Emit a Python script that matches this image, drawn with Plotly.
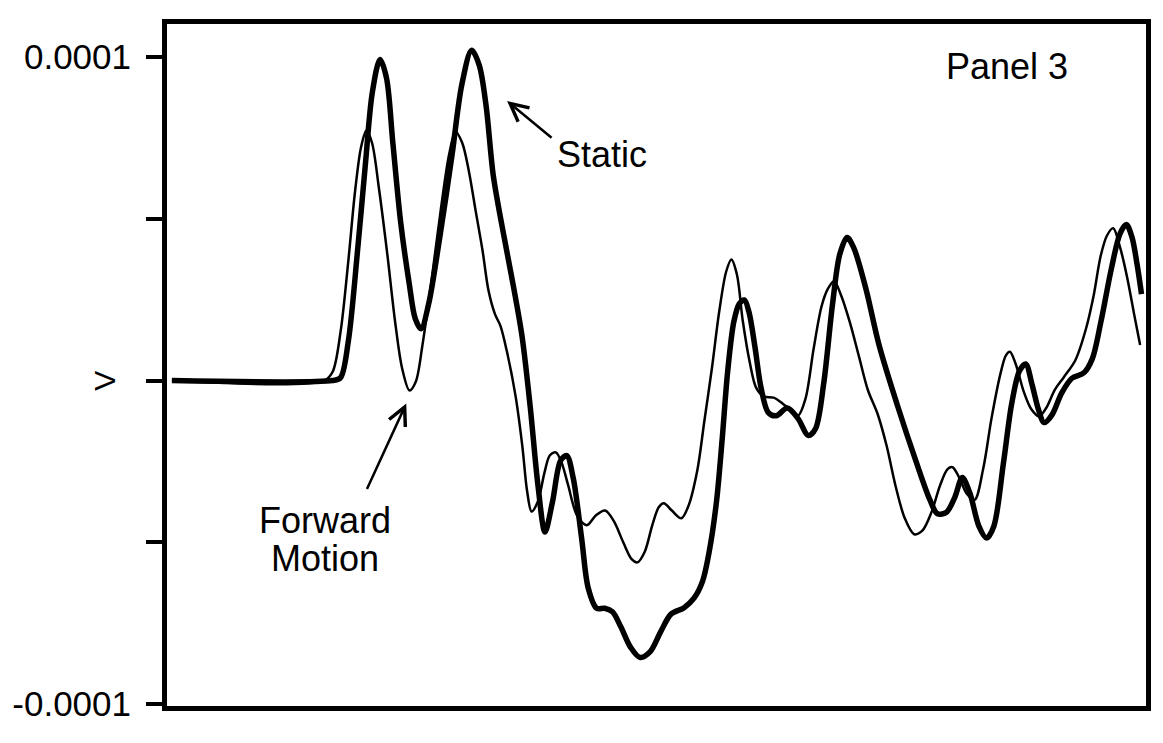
import numpy as np
import plotly.graph_objects as go

# Sample position along the record (arbitrary units, 0-1000)
static_t = [5, 169, 177.1, 185.1, 194.5, 202.8, 209.7, 217.6, 224.2, 230.7, 238.8, 247.4,
            253.6, 259.5, 267.2, 279.1, 291.2, 301.1, 311.2, 318.9, 325.9, 333.3, 342.2,
            353.8, 362.7, 371.0, 379.1, 386.1, 393.7, 402.1, 408.3, 414.9, 423.5, 430.3,
            438.9, 447.0, 455.0, 463.7, 473.4, 483.3, 493.6, 504.2, 514.8, 528.2, 538.5,
            547.1, 553.9, 561.3, 566.9, 572.7, 579.0, 584.5, 589.7, 594.5, 600.6, 606.7,
            614.2, 622.3, 633.6, 644.4, 655.2, 662.4, 670.7, 679.8, 687.2, 694.7, 701.5,
            713.7, 727.4, 746.2, 765.1, 779.3, 787.0, 796.2, 804.7, 812.3, 820.0, 829.3,
            837.1, 844.5, 854.3, 862.8, 870.8, 877.1, 883.6, 890.1, 895.9, 904.0, 913.8,
            924.3, 936.6, 945.1, 954.1, 964.5, 973.6, 979.9, 985.6, 991.0, 995.4]
# Static response, microvolts
static_uv = [0, 0, 0.8, 11.9, 39.7, 67.4, 89.0, 99.2, 93.5, 73.4, 48.6, 30.0,
             19.1, 16.0, 23.6, 45.2, 69.8, 91.4, 102.1, 97.5, 85.0, 63.3, 47.8,
             29.2, 13.6, -8.1, -32.9, -46.8, -37.6, -24.7, -23.2, -30.1, -48.7, -64.2,
             -70.4, -70.4, -71.5, -76.2, -82.4, -85.6, -83.8, -77.7, -72.2, -70.2, -67.2,
             -62.0, -52.8, -37.4, -18.8, 2.8, 18.2, 23.7, 24.9, 21.1, 10.3, -2.1,
             -9.9, -10.9, -8.5, -11.7, -17.0, -14.9, -1.1, 23.6, 39.0, 44.2, 41.0,
             28.6, 10.9, -7.8, -25.0, -36.9, -41.2, -40.7, -36.1, -30.0, -34.7, -45.0,
             -48.7, -45.1, -25.7, -7.2, 3.0, 5.1, -1.2, -8.9, -13.0, -10.6, -3.9,
             0.7, 2.4, 6.7, 18.4, 34.4, 45.5, 48.2, 44.4, 35.7, 26.7]

forward_t = [5, 160.8, 169.2, 177.3, 185.1, 192.0, 198.2, 203.7, 209.4, 216.4, 224.9, 233.2,
             240.2, 247.7, 254.1, 261.1, 269.7, 279.7, 288.2, 294.7, 301.5, 308.1, 315.2,
             322.3, 328.4, 334.9, 340.6, 347.1, 356.1, 363.0, 367.9, 372.4, 378.7, 385.7,
             391.1, 397.2, 403.0, 409.6, 419.0, 428.9, 438.0, 447.5, 456.3, 465.9, 474.6,
             480.5, 488.0, 495.8, 502.4, 507.5, 515.4, 525.3, 532.7, 541.6, 548.9, 556.6,
             564.1, 571.2, 576.5, 582.2, 588.0, 595.2, 601.6, 609.5, 619.7, 629.6, 637.6,
             644.6, 652.2, 660.5, 668.5, 675.0, 681.4, 688.2, 697.6, 706.9, 716.0, 725.7,
             735.0, 744.2, 753.5, 763.2, 771.5, 781.0, 789.8, 797.3, 802.4, 809.2, 817.0,
             824.9, 833.8, 842.2, 851.4, 856.8, 861.0, 866.8, 875.3, 882.9, 890.9, 898.2,
             906.8, 916.2, 927.7, 938.7, 946.5, 953.7, 960.3, 966.5, 973.3, 980.6, 987.8,
             994.0]
# Forward-motion response, microvolts
forward_uv = [0, 0, 2.7, 15.1, 36.6, 58.2, 72.1, 77.3, 73.5, 59.6, 39.4, 17.7,
              3.7, -3.1, -0.4, 11.3, 29.8, 52.9, 69.9, 76.9, 73.5, 65.1, 52.6,
              40.2, 27.8, 20.6, 16.9, 9.1, -4.9, -20.4, -34.3, -40.5, -37.5, -28.3,
              -23.1, -22.2, -25.3, -32.2, -41.8, -44.7, -41.7, -40.2, -43.4, -49.9, -55.2,
              -56.2, -52.9, -44.6, -39.1, -37.9, -40.1, -42.6, -38.7, -27.9, -12.5, 3.8,
              21.4, 33.7, 37.4, 32.7, 18.7, 5.7, -2.1, -4.9, -5.3, -7.3, -9.2,
              -10.8, -5.6, 9.8, 22.8, 28.3, 30.7, 26.6, 17.9, 7.3, -3.0, -10.2,
              -20.1, -32.6, -42.5, -47.5, -46.4, -40.6, -32.3, -27.4, -26.8, -30.0, -35.0,
              -36.9, -27.1, -11.7, 2.2, 7.7, 8.9, 5.2, -3.6, -8.9, -11.1, -8.4,
              -2.9, 1.1, 6.2, 16.0, 26.2, 38.5, 44.9, 47.1, 41.4, 32.1, 20.6,
              11.0]

tick_vals = [-0.0001, -0.00005, 0, 0.00005, 0.0001]
tick_text = ["-0.0001", "", "", "", "0.0001"]

FONT = "Liberation Sans, Arial, Helvetica, sans-serif"
TEXT = dict(family=FONT, size=36, color="black")

fig = go.Figure()
fig.add_trace(go.Scatter(
    x=forward_t, y=np.array(forward_uv) * 1e-6, mode="lines",
    line=dict(color="black", width=2.5, shape="spline", smoothing=0.9),
    name="Forward Motion", showlegend=False, hoverinfo="skip"))
fig.add_trace(go.Scatter(
    x=static_t, y=np.array(static_uv) * 1e-6, mode="lines",
    line=dict(color="black", width=5.5, shape="spline", smoothing=0.9),
    name="Static", showlegend=False, hoverinfo="skip"))

# Arrow labels
fig.add_annotation(x=347.4, y=8.64e-5, ax=46, ay=38, text="", showarrow=True,
                   arrowhead=5, arrowsize=1.4, arrowwidth=2.5, arrowcolor="black")
fig.add_annotation(x=396.7, y=6.99e-5, text="Static", showarrow=False,
                   xanchor="left", yanchor="middle", font=TEXT)
fig.add_annotation(x=244.4, y=-0.71e-5, ax=-40, ay=87, text="", showarrow=True,
                   arrowhead=5, arrowsize=1.4, arrowwidth=2.5, arrowcolor="black")
fig.add_annotation(x=161, y=-4.34e-5, text="Forward", showarrow=False,
                   xanchor="center", yanchor="middle", font=TEXT)
fig.add_annotation(x=161, y=-5.49e-5, text="Motion", showarrow=False,
                   xanchor="center", yanchor="middle", font=TEXT)
fig.add_annotation(x=858, y=9.71e-5, text="Panel 3", showarrow=False,
                   xanchor="center", yanchor="middle", font=TEXT)
# Axis title
fig.add_annotation(xref="paper", x=-0.064, y=0, text="V", showarrow=False,
                   textangle=-90, xanchor="center", yanchor="middle",
                   font=dict(family=FONT, size=30, color="black"))

fig.update_xaxes(range=[0, 1000], showgrid=False, zeroline=False,
                 showticklabels=False, ticks="", showline=True, mirror=True,
                 linecolor="black", linewidth=5)
fig.update_yaxes(range=[-0.0001006, 0.0001102], showgrid=False, zeroline=False,
                 tickvals=tick_vals, ticktext=tick_text, ticks="outside",
                 ticklen=16, tickwidth=4, tickcolor="black",
                 ticklabelstandoff=8,
                 tickfont=dict(family=FONT, size=35, color="black"),
                 showline=True, mirror=True, linecolor="black", linewidth=5)

fig.update_layout(width=1163, height=743,
                  margin=dict(l=163, r=13, t=24, b=37),
                  paper_bgcolor="white", plot_bgcolor="white")

fig.write_html("out.html")
